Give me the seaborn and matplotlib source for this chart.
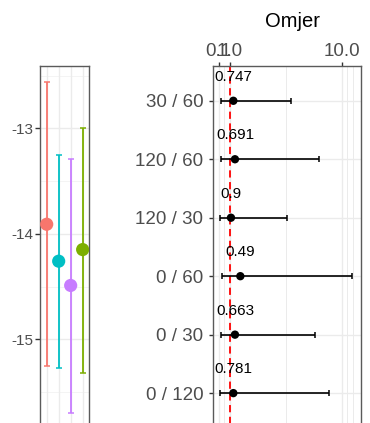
import numpy as np
import matplotlib.pyplot as plt
import seaborn as sns

# left panel: four groups, estimate with interval
grp_names = ['g1', 'g2', 'g3', 'g4']
grp_colors = ['#F8766D', '#00BFC4', '#C77CFF', '#7CAE00']
grp_est = [-13.91, -14.26, -14.49, -14.15]
grp_low = [-15.25, -15.27, -15.70, -15.32]
grp_high = [-12.56, -13.25, -13.29, -13.00]
left_ticks = [-13, -14, -15]
left_minor = [-12.5, -13.5, -14.5, -15.5]

# right panel: ratio (Omjer) with interval and p-value labels
rows = ['30 / 60', '120 / 60', '120 / 30', '0 / 60', '0 / 30', '0 / 120']
ratio = [1.27, 1.40, 1.08, 1.83, 1.40, 1.27]
ratio_low = [0.28, 0.26, 0.22, 0.34, 0.26, 0.20]
ratio_high = [5.89, 8.13, 5.59, 10.78, 7.81, 8.96]
p_labels = ['0.747', '0.691', '0.9', '0.49', '0.663', '0.781']
x_ticks = [0.1, 1.0, 10.0]
x_minor = [0.55, 5.5, 10.4, 10.85]

sns.set_theme(style='white')
plt.rcParams['font.family'] = ['Liberation Sans', 'DejaVu Sans']

W, H = 370, 423
fig = plt.figure(figsize=(W / 100, H / 100), dpi=100)

grid_c = '#EBEBEB'
border_c = '#5a5a5a'
text_c = '#4D4D4D'

# ---- left panel (cropped at the bottom) ----
ax1 = fig.add_axes([40 / W, -17 / H, 49 / W, (423 - 65.7 + 17) / H])
xpos = np.arange(1, len(grp_names) + 1)
for y in left_minor:
    ax1.axhline(y, color='#F2F2F2', lw=0.6, zorder=0)
for y in left_ticks:
    ax1.axhline(y, color=grid_c, lw=1.0, zorder=0)
for x in xpos:
    ax1.axvline(x, color=grid_c, lw=1.0, zorder=0)
for x, est, lo, hi, c in zip(xpos, grp_est, grp_low, grp_high, grp_colors):
    ax1.errorbar(x, est, yerr=[[est - lo], [hi - est]], fmt='none', ecolor=c,
                 elinewidth=1.3, capsize=2, capthick=1.1, zorder=2)
sns.scatterplot(x=xpos, y=grp_est, hue=grp_names, palette=grp_colors, s=90,
                edgecolor='none', legend=False, ax=ax1, zorder=3)
ax1.set_xlim(0.44, 4.53)
ax1.set_ylim(-15.955, -12.407)
ax1.set_xticks([])
ax1.set_yticks(left_ticks)
ax1.set_yticklabels([str(t) for t in left_ticks], fontsize=11, color=text_c)
ax1.tick_params(axis='y', length=3.5, width=1, color='#333333', pad=1, left=True)
for s in ax1.spines.values():
    s.set_color(border_c)
    s.set_linewidth(1.0)

# ---- right panel ----
ax2 = fig.add_axes([213 / W, -5.2 / H, 148 / W, 362.5 / H])
ypos = np.arange(len(rows))
for x in x_minor:
    ax2.axvline(x, color=grid_c, lw=0.7, zorder=0)
for x in x_ticks:
    ax2.axvline(x, color=grid_c, lw=1.0, zorder=0)
for y in ypos:
    ax2.axhline(y, color=grid_c, lw=1.0, zorder=0)
ax2.axvline(1.0, color='red', lw=1.3, ls=(0, (4, 2.5)), zorder=1)
est = np.array(ratio)
ax2.errorbar(ratio, ypos, xerr=[est - np.array(ratio_low), np.array(ratio_high) - est],
             fmt='none', ecolor='black', elinewidth=1.2, capsize=2.5, capthick=1.1, zorder=2)
sns.scatterplot(x=ratio, y=ypos, color='black', s=36, edgecolor='none', ax=ax2, zorder=3)
for x, y, lab in zip(ratio, ypos, p_labels):
    ax2.text(x, y - 0.41, lab, ha='center', va='center', fontsize=11, color='black', zorder=4)
ax2.set_xlim(-0.36, 11.5)
ax2.set_ylim(5.6, -0.6)
ax2.xaxis.tick_top()
ax2.set_xticks(x_ticks)
ax2.set_xticklabels([f'{t:.1f}' for t in x_ticks], fontsize=13.5, color=text_c)
ax2.set_yticks(ypos)
ax2.set_yticklabels(rows, fontsize=13.5, color=text_c)
ax2.tick_params(axis='x', top=True, bottom=False, length=3, width=1, color='#333333', pad=1)
ax2.tick_params(axis='y', left=True, length=3, width=1, color='#333333', pad=4)
for s in ax2.spines.values():
    s.set_color(border_c)
    s.set_linewidth(1.0)

fig.text(292.7 / W, 1 - 21.5 / H, 'Omjer', ha='center', va='center', fontsize=14.5, color='black')

fig.savefig('out.png', dpi=100)
